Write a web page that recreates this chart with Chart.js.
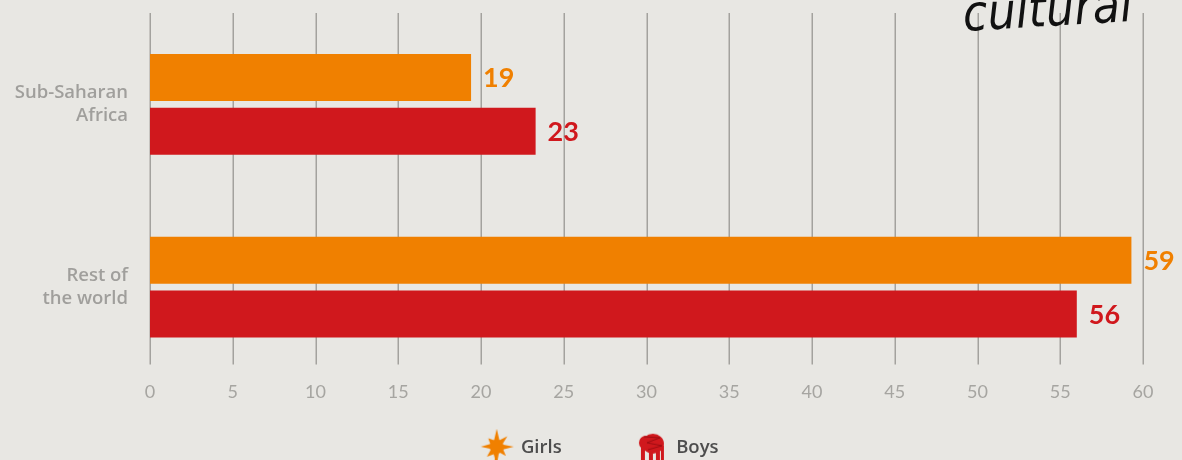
<!DOCTYPE html>
<html>
<head>
<meta charset="utf-8">
<script src="https://cdn.jsdelivr.net/npm/chart.js@4/dist/chart.umd.min.js"></script>
<style>
  html, body { margin: 0; padding: 0; background: #e8e7e3; }
  #wrap { width: 1182px; height: 460px; }
</style>
</head>
<body>
<div id="wrap"><canvas id="chart" width="1182" height="460"></canvas></div>
<script>
const regions = [['Sub-Saharan', 'Africa'], ['Rest of', 'the world']]
const girls = [19.4, 59.3]
const boys = [23.3, 56.0]
const seriesNames = ['Girls', 'Boys']
const xMin = 0
const xMax = 60
const xStep = 5
const note = 'cultural'

const ORANGE = '#f08000'
const RED = '#d0181d'
const GRID = '#a3a29e'
const FONT = '"Open Sans", Lato, sans-serif'
const THIN = 'Lato, "Open Sans", sans-serif'

// little hand drawn legend icons
const splat = () => {
  const c = document.createElement('canvas')
  c.width = 36
  c.height = 38
  const ctx = c.getContext('2d')
  const radii = [18, 7, 15, 6, 17, 7, 13, 6, 18, 8, 14, 6, 16, 7, 12, 7]
  ctx.fillStyle = ORANGE
  ctx.beginPath()
  radii.forEach((r, i) => {
    const a = i / radii.length * Math.PI * 2 - Math.PI / 2
    const px = 18 + Math.cos(a) * r
    const py = 18 + Math.sin(a) * r
    i ? ctx.lineTo(px, py) : ctx.moveTo(px, py)
  })
  ctx.closePath()
  ctx.fill()
  ctx.beginPath()
  ctx.arc(18, 18, 7, 0, Math.PI * 2)
  ctx.fill()
  ctx.fillRect(16, 25, 3, 13)
  return c
}

const scribble = () => {
  const c = document.createElement('canvas')
  c.width = 28
  c.height = 34
  const ctx = c.getContext('2d')
  ctx.fillStyle = RED
  ctx.beginPath()
  ctx.ellipse(15, 13, 11, 10, 0, 0, Math.PI * 2)
  ctx.fill()
  ctx.beginPath()
  ctx.arc(8, 12, 7, 0, Math.PI * 2)
  ctx.fill()
  ctx.fillRect(3, 15, 4, 17)
  ctx.fillRect(11, 19, 4, 14)
  ctx.fillRect(18, 19, 4, 13)
  ctx.fillRect(23, 15, 3, 15)
  ctx.strokeStyle = '#9e0d12'
  ctx.lineWidth = 1
  ctx.beginPath()
  ctx.moveTo(6, 6); ctx.lineTo(22, 7); ctx.lineTo(9, 12); ctx.lineTo(24, 15); ctx.lineTo(10, 19)
  ctx.stroke()
  return c
}

const icons = [splat(), scribble()]
const blank = document.createElement('canvas')
blank.width = 1
blank.height = 1

const gridLines = {
  id: 'gridLines',
  beforeDatasetsDraw(chart) {
    const { ctx, chartArea, scales: { x } } = chart
    ctx.save()
    ctx.strokeStyle = GRID
    ctx.lineWidth = 1.5
    x.ticks.forEach(t => {
      const px = Math.round(x.getPixelForValue(t.value)) + 0.25
      ctx.beginPath()
      ctx.moveTo(px, chartArea.top)
      ctx.lineTo(px, chartArea.bottom - 14)
      ctx.stroke()
    })
    ctx.restore()
  }
}

const barLabels = {
  id: 'barLabels',
  afterDatasetsDraw(chart) {
    const { ctx } = chart
    ctx.save()
    ctx.font = 'bold 27px ' + THIN
    ctx.textBaseline = 'middle'
    ctx.textAlign = 'left'
    chart.data.datasets.forEach((ds, i) => {
      chart.getDatasetMeta(i).data.forEach((bar, j) => {
        ctx.fillStyle = ds.backgroundColor
        ctx.fillText(Math.round(ds.data[j]), bar.x + 12, bar.y + 1)
      })
    })
    ctx.restore()
  }
}

const handNote = {
  id: 'handNote',
  afterDraw(chart) {
    const { ctx } = chart
    ctx.save()
    ctx.translate(963, 18)
    ctx.rotate(-0.06)
    ctx.font = 'italic 50px "DejaVu Sans"'
    const w = ctx.measureText(note).width
    ctx.scale(170 / w, 1)
    ctx.fillStyle = '#111'
    ctx.fillText(note, 0, 0)
    ctx.restore()
  }
}

const spacer = () => ({ text: '', pointStyle: blank, lineWidth: 0 })

new Chart(document.getElementById('chart'), {
  type: 'bar',
  data: {
    labels: regions,
    datasets: [
      { label: seriesNames[0], data: girls, backgroundColor: ORANGE },
      { label: seriesNames[1], data: boys, backgroundColor: RED }
    ]
  },
  options: {
    indexAxis: 'y',
    responsive: false,
    animation: false,
    devicePixelRatio: 1,
    barPercentage: 47 / 54,
    categoryPercentage: 108 / 183.5,
    layout: { padding: { top: 13, right: 39, left: 0, bottom: -7 } },
    scales: {
      x: {
        min: xMin,
        max: xMax,
        grid: { display: false, drawTicks: false },
        border: { display: false },
        ticks: {
          stepSize: xStep,
          padding: 3,
          color: '#a6a5a1',
          font: { family: THIN, size: 18, weight: 400 }
        },
        afterFit: s => {
          s.height = 42
          s.paddingLeft = 0
          s.paddingRight = 0
        }
      },
      y: {
        grid: { display: false, drawTicks: false },
        border: { display: false },
        ticks: {
          padding: 22,
          color: '#a09f9c',
          font: { family: FONT, size: 18.5, weight: 600, lineHeight: 1.25 }
        },
        afterFit: s => {
          s.width = 150
          s.paddingTop = 0
          s.paddingBottom = 0
        }
      }
    },
    plugins: {
      tooltip: { enabled: false },
      legend: {
        position: 'bottom',
        labels: {
          usePointStyle: true,
          pointStyleWidth: 30,
          padding: 18,
          color: '#4d4d4d',
          font: { family: FONT, size: 18.5, weight: 600 },
          generateLabels: chart => {
            const items = chart.data.datasets.map((ds, i) => ({
              text: ds.label,
              pointStyle: icons[i],
              fillStyle: ds.backgroundColor,
              strokeStyle: ds.backgroundColor,
              lineWidth: 0,
              fontColor: '#4d4d4d',
              datasetIndex: i
            }))
            // empty spacers to place the entries like the original
            return [spacer(), items[0], spacer(), items[1]]
          }
        },
        onClick: () => {}
      }
    }
  },
  plugins: [gridLines, barLabels, handNote]
})
</script>
</body>
</html>
